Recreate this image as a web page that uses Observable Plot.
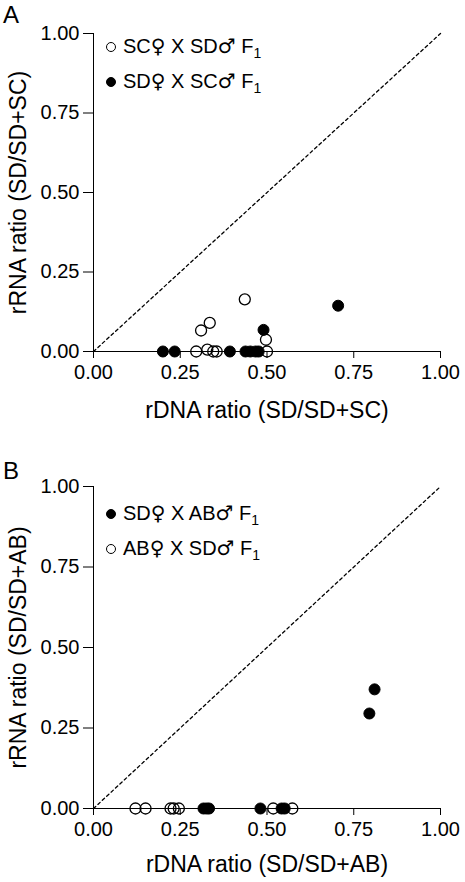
<!DOCTYPE html>
<html><head><meta charset="utf-8">
<script src="https://cdn.jsdelivr.net/npm/d3@7"></script>
<script src="https://cdn.jsdelivr.net/npm/@observablehq/plot@0.6"></script>
<style>
body{margin:0;background:#fff;font-family:"Liberation Sans",Arial,sans-serif;}
#wrap{position:relative;width:465px;height:882px;overflow:hidden;}
.panel{position:absolute;left:0;}
.panel g[aria-label="x-axis tick label"] text,
.panel g[aria-label="y-axis tick label"] text{font-size:20px;}
.panel g[aria-label="x-axis label"] text,
.panel g[aria-label="y-axis label"] text{font-size:23px;}
.tag{position:absolute;font-size:24px;color:#000;}
.legend{position:absolute;font-size:20px;color:#000;line-height:28px;white-space:nowrap;}
.legend .sym{display:inline-block;width:10px;height:10px;border-radius:50%;border:1.3px solid #000;box-sizing:border-box;margin-right:7px;vertical-align:1px;}
.legend .sym.f{background:#000;}
.legend .g{font-family:"DejaVu Sans",sans-serif;font-size:20px;font-weight:normal;}
.legend sub{font-size:14px;vertical-align:-5px;}
</style></head><body><div id="wrap"></div>
<script>
// tick values & labels
const tickValues = [0, 0.25, 0.5, 0.75, 1];
const tickLabels = ["0.00", "0.25", "0.50", "0.75", "1.00"];

// Panel A — SC♀ X SD♂ F1 (open)
const aOpenX = [0.296, 0.328, 0.345, 0.355, 0.500, 0.310, 0.335, 0.497, 0.436];
const aOpenY = [0.000, 0.006, 0.000, 0.000, 0.000, 0.066, 0.090, 0.037, 0.164];
// Panel A — SD♀ X SC♂ F1 (filled)
const aFillX = [0.200, 0.234, 0.393, 0.438, 0.452, 0.467, 0.476, 0.490, 0.705];
const aFillY = [0.000, 0.000, 0.000, 0.000, 0.000, 0.000, 0.000, 0.068, 0.144];

// Panel B — SD♀ X AB♂ F1 (filled)
const bFillX = [0.317, 0.326, 0.333, 0.481, 0.542, 0.551, 0.795, 0.810];
const bFillY = [0.000, 0.000, 0.000, 0.000, 0.000, 0.000, 0.295, 0.370];
// Panel B — AB♀ X SD♂ F1 (open)
const bOpenX = [0.121, 0.150, 0.222, 0.231, 0.246, 0.518, 0.573];
const bOpenY = [0.000, 0.000, 0.000, 0.000, 0.000, 0.000, 0.000];

const diag = [0, 1];

const zip = (xs, ys) => xs.map((x, i) => ({x, y: ys[i]}));

function makePanel({open, filled, xLabel, yLabel, marginTop, marginBottom, xLabelOffset}) {
  const fmt = d => tickLabels[tickValues.indexOf(d)];
  return Plot.plot({
    width: 465, height: 441,
    marginLeft: 93, marginRight: 25, marginTop, marginBottom,
    style: {fontFamily: '"Liberation Sans", Arial, sans-serif', fontSize: "20px", color: "#000", background: "#fff", overflow: "visible"},
    x: {domain: [0, 1]},
    y: {domain: [0, 1]},
    marks: [
      Plot.line(diag, {x: d => d, y: d => d, stroke: "#000", strokeWidth: 1.3, strokeDasharray: "3,3"}),
      Plot.ruleX([0], {y1: 0, y2: 1, stroke: "#000", strokeWidth: 1}),
      Plot.ruleY([0], {x1: 0, x2: 1, stroke: "#000", strokeWidth: 1}),
      Plot.axisX({ticks: tickValues, tickFormat: fmt, tickSize: 7, tickPadding: 6, stroke: "#000",
        label: xLabel, labelAnchor: "center", labelArrow: "none", labelOffset: xLabelOffset}),
      Plot.axisY({ticks: tickValues, tickFormat: fmt, tickSize: 10, tickPadding: 4, stroke: "#000",
        label: yLabel, labelAnchor: "center", labelArrow: "none", labelOffset: 84}),
      Plot.dot(zip(filled.x, filled.y), {x: "x", y: "y", r: 5.5, fill: "#000", stroke: "#000", strokeWidth: 1}),
      Plot.dot(zip(open.x, open.y), {x: "x", y: "y", r: 5.5, fill: "none", stroke: "#000", strokeWidth: 1.3})
    ]
  });
}

const wrap = document.getElementById("wrap");

const pA = makePanel({
  open: {x: aOpenX, y: aOpenY}, filled: {x: aFillX, y: aFillY},
  xLabel: "rDNA ratio (SD/SD+SC)", yLabel: "rRNA ratio (SD/SD+SC)",
  marginTop: 33, marginBottom: 90, xLabelOffset: 66
});
pA.classList.add("panel"); pA.style.top = "0px";
wrap.appendChild(pA);

const pB = makePanel({
  open: {x: bOpenX, y: bOpenY}, filled: {x: bFillX, y: bFillY},
  xLabel: "rDNA ratio (SD/SD+AB)", yLabel: "rRNA ratio (SD/SD+AB)",
  marginTop: 45, marginBottom: 74, xLabelOffset: 63
});
pB.classList.add("panel"); pB.style.top = "441px";
wrap.appendChild(pB);

// panel tags
function addTag(t, left, top) {
  const d = document.createElement("div");
  d.className = "tag"; d.textContent = t;
  d.style.left = left + "px"; d.style.top = top + "px";
  wrap.appendChild(d);
}
addTag("A", 3, 1);
addTag("B", 3, 457);

// legends
const sexify = s => s.replace(/([♀♂])/g, '<span class="g">$1</span>');
function addLegend(items, left, top) {
  const d = document.createElement("div");
  d.className = "legend";
  d.style.left = left + "px"; d.style.top = top + "px";
  d.innerHTML = items.map(([filledSym, text]) =>
    `<div><span class="sym${filledSym ? " f" : ""}"></span>${sexify(text)} F<sub>1</sub></div>`).join("");
  wrap.appendChild(d);
}
addLegend([[false, "SC♀ X SD♂"], [true, "SD♀ X SC♂"]], 106, 32);
addLegend([[true, "SD♀ X AB♂"], [false, "AB♀ X SD♂"]], 106, 499);
</script></body></html>
